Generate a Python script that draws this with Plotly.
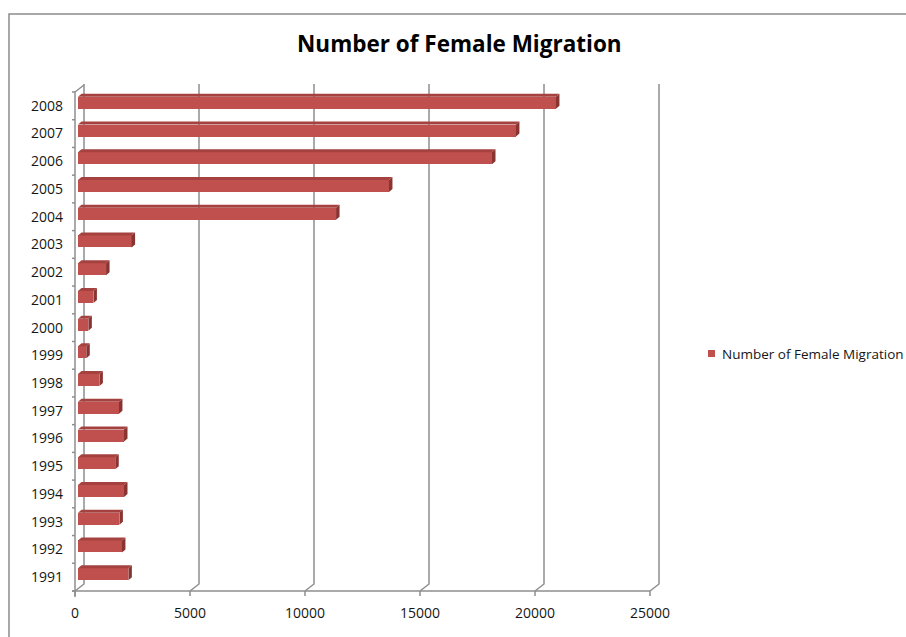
import plotly.graph_objects as go

# Female migration counts per year
years = [1991, 1992, 1993, 1994, 1995, 1996, 1997, 1998, 1999,
         2000, 2001, 2002, 2003, 2004, 2005, 2006, 2007, 2008]
female_migration = [2190, 1910, 1800, 2000, 1620, 2000, 1780, 930, 360,
                    450, 670, 1220, 2330, 11220, 13520, 18000, 19040, 20780]
x_ticks = [0, 5000, 10000, 15000, 20000, 25000]
series_name = "Number of Female Migration"

X_MAX = 25000
W, H = 906, 637
M_L, M_R, M_T, M_B = 78, 253, 89, 49
PLOT_W = W - M_L - M_R
PLOT_H = H - M_T - M_B
N_CAT = len(years)

BAR_COLOR = "#c0504d"
SIDE_COLOR = "#8a3432"
TOP_COLOR = "#a5423f"
GRID_COLOR = "#8e8e8e"
TEXT_COLOR = "#161616"
FONT = "Open Sans"

BAR_PX = 12          # front face height of each bar
DEPTH_DX, DEPTH_DY = 3.5, 3   # bar depth in pixels
depth_units = DEPTH_DX * X_MAX / PLOT_W

fig = go.Figure()
fig.add_trace(go.Bar(
    x=female_migration, y=years, orientation="h",
    width=BAR_PX / (PLOT_H / N_CAT),
    marker=dict(color=BAR_COLOR, line=dict(width=0)),
    name=series_name, showlegend=False, hoverinfo="x+y",
))

shapes = []
line_style = dict(color=GRID_COLOR, width=1.5)

# back-wall gridlines with floor diagonals
for v in x_ticks:
    shapes.append(dict(
        type="path", xref="paper", yref="paper",
        xsizemode="pixel", ysizemode="pixel",
        xanchor=v / X_MAX, yanchor=0,
        path="M-3,-3 L6,4 L6,504", line=line_style, layer="below"))
    # tick marks on the front floor edge
    shapes.append(dict(
        type="path", xref="paper", yref="paper",
        xsizemode="pixel", ysizemode="pixel",
        xanchor=v / X_MAX, yanchor=0,
        path="M-3,-3 L-3,-8", line=line_style, layer="below"))

# front floor edge
shapes.append(dict(
    type="path", xref="paper", yref="paper",
    xsizemode="pixel", ysizemode="pixel", xanchor=0, yanchor=0,
    path=f"M-6,-3 L{PLOT_W - 3},-3", line=line_style, layer="below"))
# front category axis and top diagonal of the side wall
shapes.append(dict(
    type="path", xref="paper", yref="paper",
    xsizemode="pixel", ysizemode="pixel", xanchor=0, yanchor=0,
    path=f"M-3,-9 L-3,{PLOT_H - 3} L6,{PLOT_H + 4}", line=line_style, layer="below"))
# category tick marks
for k in range(N_CAT + 1):
    shapes.append(dict(
        type="path", xref="paper", yref="paper",
        xsizemode="pixel", ysizemode="pixel", xanchor=0, yanchor=k / N_CAT,
        path="M-6,-3 L-3,-3", line=line_style, layer="below"))

# 3D side and top faces of each bar
h = BAR_PX / 2
for yr, v in zip(years, female_migration):
    shapes.append(dict(
        type="path", xref="x", yref="y",
        xsizemode="pixel", ysizemode="pixel", xanchor=v, yanchor=yr,
        path=f"M0,{-h} L{DEPTH_DX},{-h + DEPTH_DY} L{DEPTH_DX},{h + DEPTH_DY} L0,{h} Z",
        fillcolor=SIDE_COLOR, line=dict(width=0), layer="above"))
    shapes.append(dict(
        type="path", xref="x", yref="y",
        ysizemode="pixel", yanchor=yr,
        path=(f"M0,{h} L{depth_units},{h + DEPTH_DY} "
              f"L{v + depth_units},{h + DEPTH_DY} L{v},{h} Z"),
        fillcolor=TOP_COLOR, line=dict(width=0), layer="above"))

# chart area border
shapes.append(dict(
    type="rect", xref="paper", yref="paper",
    xsizemode="pixel", ysizemode="pixel", xanchor=0, yanchor=0,
    x0=-69, x1=W, y0=-H, y1=PLOT_H + M_T - 14,
    line=dict(color="#8c8c8c", width=1.5), fillcolor="rgba(0,0,0,0)", layer="below"))

# legend key
shapes.append(dict(
    type="rect", xref="paper", yref="paper",
    xsizemode="pixel", ysizemode="pixel", xanchor=1, yanchor=0,
    x0=55, x1=62, y0=231, y1=238,
    fillcolor=BAR_COLOR, line=dict(width=0), layer="above"))

fig.update_layout(
    width=W, height=H, autosize=False,
    margin=dict(l=M_L, r=M_R, t=M_T, b=M_B, pad=0),
    paper_bgcolor="white", plot_bgcolor="white",
    font=dict(family=FONT, color=TEXT_COLOR, size=14),
    title=dict(text=series_name, x=0.507, xref="container", xanchor="center",
               y=1 - 44 / H, yanchor="middle",
               font=dict(family=FONT, size=22.5, color="black", weight="bold")),
    xaxis=dict(range=[0, X_MAX], tickvals=x_ticks, ticktext=[str(t) for t in x_ticks],
               showgrid=False, zeroline=False, showline=False, ticks="",
               ticklabelshift=-3, ticklabelstandoff=15, fixedrange=True),
    yaxis=dict(range=[years[0] - 0.5, years[-1] + 0.5], tickvals=years,
               ticktext=[str(y) for y in years],
               showgrid=False, zeroline=False, showline=False, ticks="",
               ticklabelshift=3, ticklabelstandoff=14, fixedrange=True),
    shapes=shapes,
    annotations=[dict(text=series_name, xref="paper", yref="paper", x=1, y=0,
                      xshift=67, yshift=234.5, xanchor="left", yanchor="middle",
                      showarrow=False, font=dict(family=FONT, size=13.5, color=TEXT_COLOR))],
    bargap=0,
)

fig.write_html("out.html")
